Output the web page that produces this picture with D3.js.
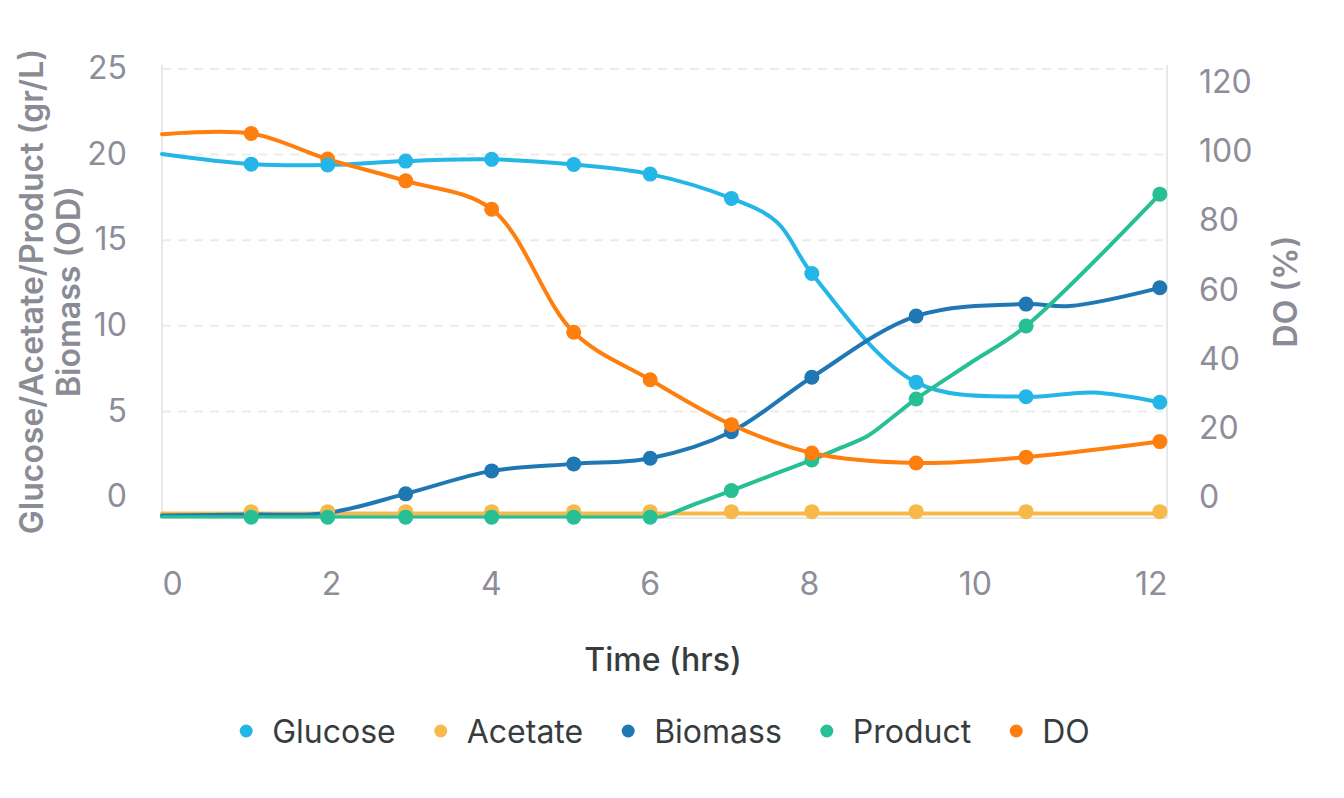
<!DOCTYPE html>
<html>
<head>
<meta charset="utf-8">
<script src="https://cdn.jsdelivr.net/npm/d3@7"></script>
<style>
  html, body { margin: 0; padding: 0; background: #ffffff; }
  svg text { font-family: "Inter", sans-serif !important; }
</style>
</head>
<body>
<svg id="chart" width="1344" height="798"></svg>
<script>
// ---------------- data ----------------
const seriesNames = ["Glucose", "Acetate", "Biomass", "Product", "DO"];
const seriesColors = ["#24b6e7", "#f6b94a", "#1f77b4", "#27bf94", "#ff7f0e"];

// sampling times (hrs) of the measured points (markers)
const sampleTimes = [1.12, 2.08, 3.06, 4.14, 5.17, 6.13, 7.15, 8.16, 9.47, 10.85, 12.53];

// measured values (markers)
const glucoseMarkers = [19.41, 19.36, 19.59, 19.69, 19.39, 18.83, 17.41, 13.03, 6.67, 5.83, 5.51];
const acetateMarkers = [-0.88, -0.88, -0.88, -0.88, -0.88, -0.88, -0.88, -0.88, -0.88, -0.88, -0.88];
const biomassMarkers = [-1.05, -0.95, 0.16, 1.5, 1.91, 2.24, 3.79, 6.97, 10.54, 11.24, 12.19];
const productMarkers = [-1.2, -1.2, -1.2, -1.2, -1.2, -1.2, 0.35, 2.14, 5.7, 9.96, 17.66];
const doMarkers = [105.2, 97.8, 91.5, 83.3, 47.7, 34.0, 21.0, 12.8, 9.9, 11.6, 16.1];

// curve knots (lines)
const glucoseLineTimes = [0, 1.12, 2.08, 3.06, 4.14, 5.17, 6.13, 7.15, 7.72, 8.16, 9.47, 10.85, 11.69, 12.53];
const glucoseLineValues = [20.0, 19.41, 19.36, 19.59, 19.69, 19.39, 18.83, 17.41, 16.04, 13.03, 6.67, 5.83, 6.08, 5.51];
const acetateLineTimes = [0, 12.53];
const acetateLineValues = [-0.98, -0.98];
const biomassLineTimes = [0, 1.12, 2.08, 3.06, 4.14, 5.17, 6.13, 7.15, 8.16, 9.47, 10.85, 11.4, 12.53];
const biomassLineValues = [-1.1, -1.05, -0.95, 0.16, 1.5, 1.91, 2.24, 3.79, 6.97, 10.54, 11.24, 11.13, 12.19];
const productLineTimes = [0, 1.12, 2.08, 3.06, 4.14, 5.17, 6.13, 6.25, 6.7, 7.15, 7.65, 8.16, 8.52, 8.87, 9.17, 9.47, 10.16, 10.85, 12.53];
const productLineValues = [-1.2, -1.2, -1.2, -1.2, -1.2, -1.2, -1.2, -1.2, -0.43, 0.35, 1.24, 2.14, 2.84, 3.57, 4.62, 5.7, 7.83, 9.96, 17.66];
const doLineTimes = [0, 1.12, 2.08, 3.06, 4.14, 5.17, 6.13, 7.15, 8.16, 9.47, 10.85, 12.53];
const doLineValues = [105.0, 105.2, 97.8, 91.5, 83.3, 47.7, 34.0, 21.0, 12.8, 9.9, 11.6, 16.1];

// axes
const xTicks = [0, 2, 4, 6, 8, 10, 12];
const xDomain = [0, 12.62];
const leftTicks = [0, 5, 10, 15, 20, 25];
const leftDomain = [-1.25, 25.2];
const rightTicks = [0, 20, 40, 60, 80, 100, 120];
const rightDomain = [-6, 125];
const xTitle = "Time (hrs)";
const leftTitleLines = ["Glucose/Acetate/Product (gr/L)", "Biomass (OD)"];
const rightTitle = "DO (%)";

// ---------------- layout ----------------
const FONT = "Inter, sans-serif";
const FS = 32;
const svg = d3.select("#chart").attr("font-family", FONT);
const margin = { left: 162, top: 65, right: 1344 - 1167, bottom: 798 - 518 };
const W = 1344 - margin.left - margin.right;
const H = 798 - margin.top - margin.bottom;
const tickColor = "#8e8e9a";
const titleColor = "#8b8b95";
const textDark = "#373d3f";

const x = d3.scaleLinear().domain(xDomain).range([0, W]);
const yL = d3.scaleLinear().domain(leftDomain).range([H, 0]);
const yR = d3.scaleLinear().domain(rightDomain).range([H, 0]);

svg.append("rect").attr("width", 1344).attr("height", 798).attr("fill", "#fff");

const g = svg.append("g").attr("transform", `translate(${margin.left},${margin.top})`);

svg.append("defs").append("clipPath").attr("id", "plotclip")
  .append("rect").attr("x", -2).attr("y", -10).attr("width", W + 4).attr("height", H + 10.5);

// grid
const grid = g.append("g")
  .call(d3.axisLeft(yL).tickValues(leftTicks.filter(v => v !== 0)).tickSize(-W).tickFormat(""));
grid.select(".domain").remove();
grid.selectAll("line").attr("stroke", "#ebebeb").attr("stroke-width", 2).attr("stroke-dasharray", "9,7");

// frame
g.append("line").attr("x1", 0).attr("x2", 0).attr("y1", 0).attr("y2", H).attr("stroke", "#e8e8e8").attr("stroke-width", 2);
g.append("line").attr("x1", W).attr("x2", W).attr("y1", 0).attr("y2", H).attr("stroke", "#e8e8e8").attr("stroke-width", 2);
g.append("line").attr("x1", 0).attr("x2", W).attr("y1", H).attr("y2", H).attr("stroke", "#e8e8e8").attr("stroke-width", 2);

function styleAxis(sel) {
  sel.attr("font-family", FONT).attr("font-size", FS);
  sel.select(".domain").remove();
  sel.selectAll("text").attr("fill", tickColor).style("font-family", FONT).attr("font-size", FS);
}

// axes
const xAxis = g.append("g").attr("transform", `translate(0,${H})`)
  .call(d3.axisBottom(x).tickValues(xTicks).tickSize(0).tickPadding(54).tickFormat(d3.format("d")));
styleAxis(xAxis);
xAxis.selectAll("text").attr("text-anchor", "start").attr("x", 0);
{
  const last = xAxis.selectAll(".tick").filter(d => d === xTicks[xTicks.length - 1]);
  last.select("text").attr("text-anchor", "end").attr("x", W - x(xTicks[xTicks.length - 1]));
}

const yAxisL = g.append("g")
  .call(d3.axisLeft(yL).tickValues(leftTicks).tickSize(0).tickPadding(35));
styleAxis(yAxisL);

const yAxisR = g.append("g").attr("transform", `translate(${W},0)`)
  .call(d3.axisRight(yR).tickValues(rightTicks).tickSize(0).tickPadding(32));
styleAxis(yAxisR);

// titles
svg.append("text").attr("x", 663).attr("y", 671).attr("text-anchor", "middle")
  .attr("font-size", FS).attr("font-weight", 500).attr("fill", textDark).text(xTitle);

const cy = margin.top + H / 2;
leftTitleLines.forEach((t, i) => {
  svg.append("text")
    .attr("transform", `translate(${43 + i * 37},${cy}) rotate(-90)`)
    .attr("text-anchor", "middle").attr("font-size", FS).attr("font-weight", 600)
    .attr("fill", titleColor).text(t);
});
svg.append("text")
  .attr("transform", `translate(1297,${cy}) rotate(-90)`)
  .attr("text-anchor", "middle").attr("font-size", FS).attr("font-weight", 600)
  .attr("fill", titleColor).text(rightTitle);

// series
const lineData = [
  { t: glucoseLineTimes, v: glucoseLineValues, axis: yL },
  { t: acetateLineTimes, v: acetateLineValues, axis: yL },
  { t: biomassLineTimes, v: biomassLineValues, axis: yL },
  { t: productLineTimes, v: productLineValues, axis: yL },
  { t: doLineTimes, v: doLineValues, axis: yR }
];
const markerData = [glucoseMarkers, acetateMarkers, biomassMarkers, productMarkers, doMarkers];
const markerAxis = [yL, yL, yL, yL, yR];

const plot = g.append("g").attr("clip-path", "url(#plotclip)");
[0, 1, 2, 3, 4].forEach(i => {
  const d = lineData[i];
  const pts = d.t.map((t, k) => [t, d.v[k]]);
  const line = d3.line().x(p => x(p[0])).y(p => d.axis(p[1])).curve(d3.curveCatmullRom.alpha(0.5));
  plot.append("path").datum(pts).attr("d", line)
    .attr("fill", "none").attr("stroke", seriesColors[i]).attr("stroke-width", 4)
    .attr("stroke-linejoin", "round").attr("stroke-linecap", "round");
});

[2, 1, 3, 4, 0].forEach(i => {
  const vals = markerData[i];
  g.append("g").selectAll("circle").data(vals).join("circle")
    .attr("cx", (v, k) => x(sampleTimes[k]))
    .attr("cy", v => markerAxis[i](v))
    .attr("r", 7.5)
    .attr("fill", seriesColors[i]);
});

// legend
const legend = svg.append("g");
let cursor = 0;
seriesNames.forEach((name, i) => {
  const item = legend.append("g").attr("transform", `translate(${cursor},0)`);
  item.append("circle").attr("cx", 7).attr("cy", 0).attr("r", 6.5).attr("fill", seriesColors[i]);
  const txt = item.append("text").attr("x", 33).attr("y", 11.5).attr("font-size", FS)
    .attr("fill", textDark).text(name);
  const w = txt.node().getBBox().width;
  cursor += 33 + w + 38;
});
const legendWidth = cursor - 38;
legend.attr("transform", `translate(${664.5 - legendWidth / 2},731)`);
</script>
</body>
</html>
